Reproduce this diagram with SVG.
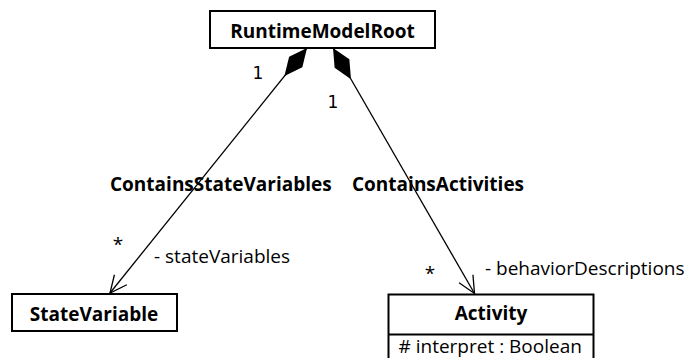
<svg xmlns="http://www.w3.org/2000/svg" width="691" height="358" viewBox="0 0 691 358">
<style>
.box{fill:#fff;stroke:#000;stroke-width:2}
.edge{fill:none;stroke:#000;stroke-width:1.3}
.t{font-family:"Open Sans","Noto Sans",sans-serif;fill:#000;font-size:19px}
.b{font-weight:bold}
.m{font-family:"DejaVu Sans",sans-serif;fill:#000}
</style>
<defs>
<marker id="arrow" markerUnits="userSpaceOnUse" viewBox="-20 -10 22 20" refX="0" refY="0" markerWidth="22" markerHeight="20" orient="auto" overflow="visible">
<path d="M-17,-8 L0,0 L-17,8" fill="none" stroke="#000" stroke-width="1.3"/>
</marker>
<marker id="diamond" markerUnits="userSpaceOnUse" viewBox="0 -10 36 20" refX="0" refY="0" markerWidth="36" markerHeight="20" orient="auto" overflow="visible">
<path d="M0,0 L18,-8.5 L36,0 L18,8.5 Z" fill="#000"/>
</marker>
</defs>
<g id="connectors">
<path class="edge" d="M307,48 L110,293" marker-start="url(#diamond)" marker-end="url(#arrow)"/>
<path class="edge" d="M333,48 L474.5,293.5" marker-start="url(#diamond)" marker-end="url(#arrow)"/>
<text class="t b" x="110" y="190.5">ContainsStateVariables</text>
<text class="t b" x="352" y="190.5">ContainsActivities</text>
<text class="m" x="258" y="79" font-size="17" text-anchor="middle">1</text>
<text class="m" x="333" y="108" font-size="17" text-anchor="middle">1</text>
<text class="t" x="118" y="250.5" text-anchor="middle">*</text>
<text class="t" x="430" y="280" text-anchor="middle">*</text>
<text class="t" x="154" y="263">- stateVariables</text>
<text class="t" x="485" y="275">- behaviorDescriptions</text>
</g>
<g id="RuntimeModelRoot">
<rect class="box" x="210" y="11" width="225" height="37"/>
<text class="t b" x="322.5" y="37.5" text-anchor="middle">RuntimeModelRoot</text>
</g>
<g id="StateVariable">
<rect class="box" x="12" y="294" width="165" height="37"/>
<text class="t b" x="94" y="320.5" text-anchor="middle">StateVariable</text>
</g>
<g id="Activity">
<rect class="box" x="388.5" y="294.5" width="205" height="70"/>
<line x1="388.5" y1="334.5" x2="593.5" y2="334.5" stroke="#000" stroke-width="2"/>
<text class="t b" x="491" y="320" text-anchor="middle">Activity</text>
<text class="t" x="398.5" y="353">#&#160;interpret : Boolean</text>
</g>
</svg>
